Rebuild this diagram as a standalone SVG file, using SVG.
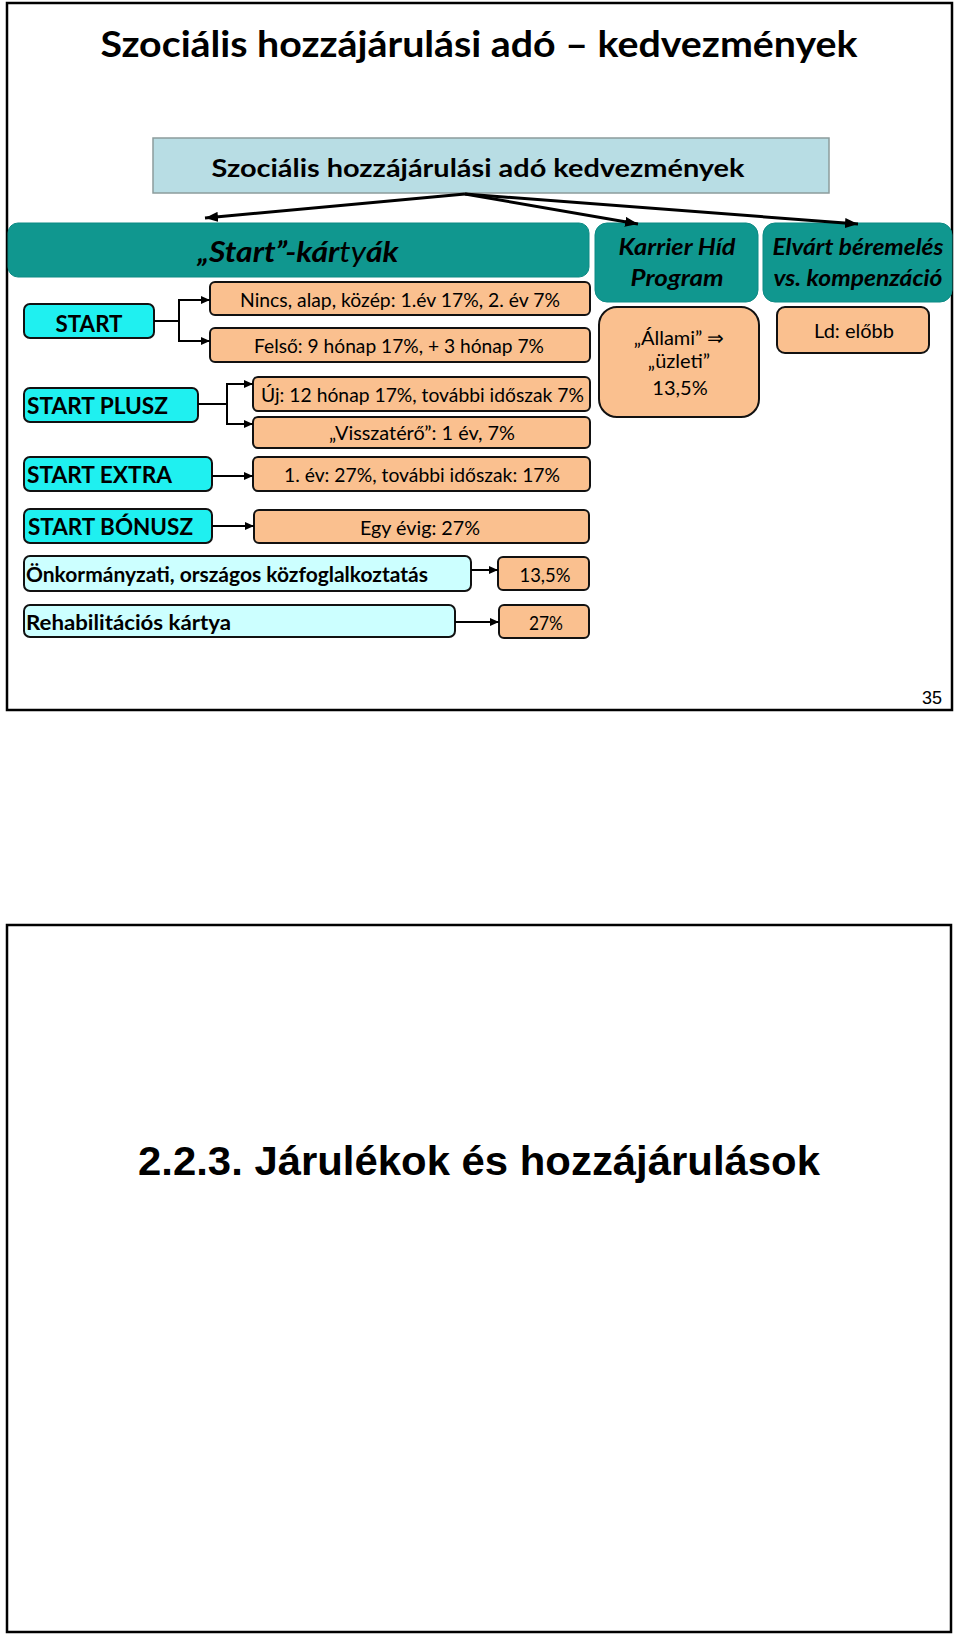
<svg xmlns="http://www.w3.org/2000/svg" width="960" height="1635" viewBox="0 0 960 1635">
<defs>
<style>
.frame{fill:#fff;stroke:#000;stroke-width:2.5}
.teal{fill:#10978f;stroke:#0d8a84;stroke-width:1}
.cyan{fill:#1ff0f0;stroke:#111;stroke-width:2}
.lcyan{fill:#ccffff;stroke:#111;stroke-width:2}
.peach{fill:#fac08f;stroke:#111;stroke-width:2}
.hdr{fill:#b8dde4;stroke:#8c9c9c;stroke-width:1.5}
.t{font-family:Lato,"Liberation Sans",sans-serif;fill:#000}
.b{font-weight:bold}
.bi{font-weight:bold;font-style:italic}
.c{text-anchor:middle}
.conn{fill:none;stroke:#000;stroke-width:2}
.big{fill:none;stroke:#000;stroke-width:3}
</style>
<marker id="ah" markerUnits="userSpaceOnUse" markerWidth="10" markerHeight="8" refX="9" refY="4" orient="auto">
<path d="M0,0 L9,4 L0,8 z" fill="#000"/>
</marker>
<marker id="ahb" markerUnits="userSpaceOnUse" markerWidth="14" markerHeight="10" refX="13" refY="5" orient="auto">
<path d="M0,0 L13,5 L0,10 z" fill="#000"/>
</marker>
</defs>
<rect width="960" height="1635" fill="#fff"/>

<!-- Slide 1 frame -->
<rect class="frame" x="7" y="3" width="945" height="707"/>
<text class="t b c" x="479" y="57" font-size="36" textLength="757" lengthAdjust="spacingAndGlyphs">Szociális hozzájárulási adó – kedvezmények</text>

<g id="header">
<rect class="hdr" x="153" y="138" width="676" height="55"/>
<text class="t b c" x="478" y="177" font-size="25" textLength="533" lengthAdjust="spacingAndGlyphs">Szociális hozzájárulási adó kedvezmények</text>
</g>

<g id="start-kartyak">
<rect class="teal" x="8" y="223" width="581" height="54" rx="10"/>
<text class="t bi c" x="298" y="262" font-size="29" textLength="201" lengthAdjust="spacingAndGlyphs">„Start”-kár<tspan font-weight="normal">ty</tspan>ák</text>
</g>

<g id="karrier">
<rect class="teal" x="595" y="223" width="163" height="79" rx="12"/>
<text class="t bi c" x="677" y="255" font-size="22" textLength="117" lengthAdjust="spacingAndGlyphs">Karrier Híd</text>
<text class="t bi c" x="677" y="286" font-size="22" textLength="93" lengthAdjust="spacingAndGlyphs">Program</text>
</g>

<g id="elvart">
<rect class="teal" x="763" y="223" width="189" height="79" rx="12"/>
<text class="t bi c" x="858" y="255" font-size="22" textLength="171" lengthAdjust="spacingAndGlyphs">Elvárt béremelés</text>
<text class="t bi c" x="858" y="286" font-size="22" textLength="169" lengthAdjust="spacingAndGlyphs">vs. kompenzáció</text>
</g>

<g id="start">
<rect class="cyan" x="24" y="304" width="130" height="34" rx="6"/>
<text class="t b c" x="89" y="332" font-size="23" textLength="67" lengthAdjust="spacingAndGlyphs">START</text>
</g>
<g id="nincs">
<rect class="peach" x="210" y="282" width="380" height="33" rx="5"/>
<text class="t c" x="400" y="307" font-size="19" textLength="320" lengthAdjust="spacingAndGlyphs">Nincs, alap, közép: 1.év 17%, 2. év 7%</text>
</g>
<g id="felso">
<rect class="peach" x="210" y="328" width="380" height="34" rx="5"/>
<text class="t c" x="399" y="353" font-size="19" textLength="290" lengthAdjust="spacingAndGlyphs">Felső: 9 hónap 17%, + 3 hónap 7%</text>
</g>

<g id="start-plusz">
<rect class="cyan" x="24" y="388" width="174" height="34" rx="6"/>
<text class="t b" x="27" y="414" font-size="23" textLength="141" lengthAdjust="spacingAndGlyphs">START PLUSZ</text>
</g>
<g id="uj">
<rect class="peach" x="253" y="377" width="337" height="34" rx="5"/>
<text class="t" x="261" y="402" font-size="20" textLength="323" lengthAdjust="spacingAndGlyphs">Új: 12 hónap 17%, további időszak 7%</text>
</g>
<g id="visszatero">
<rect class="peach" x="253" y="417" width="337" height="31" rx="5"/>
<text class="t c" x="422" y="440" font-size="20" textLength="186" lengthAdjust="spacingAndGlyphs">„Visszatérő”: 1 év, 7%</text>
</g>

<g id="start-extra">
<rect class="cyan" x="24" y="457" width="188" height="34" rx="6"/>
<text class="t b" x="27" y="483" font-size="23" textLength="145" lengthAdjust="spacingAndGlyphs">START EXTRA</text>
</g>
<g id="elso-ev">
<rect class="peach" x="253" y="457" width="337" height="34" rx="5"/>
<text class="t c" x="422" y="482" font-size="20" textLength="276" lengthAdjust="spacingAndGlyphs">1. év: 27%, további időszak: 17%</text>
</g>

<g id="start-bonusz">
<rect class="cyan" x="24" y="509" width="188" height="34" rx="6"/>
<text class="t b" x="28" y="535" font-size="23" textLength="165" lengthAdjust="spacingAndGlyphs">START BÓNUSZ</text>
</g>
<g id="egy-evig">
<rect class="peach" x="254" y="510" width="335" height="33" rx="5"/>
<text class="t c" x="420" y="535" font-size="20" textLength="120" lengthAdjust="spacingAndGlyphs">Egy évig: 27%</text>
</g>

<g id="onkormanyzati">
<rect class="lcyan" x="24" y="556" width="447" height="35" rx="6"/>
<text class="t b" x="26" y="582" font-size="21" textLength="402" lengthAdjust="spacingAndGlyphs">Önkormányzati, országos közfoglalkoztatás</text>
</g>
<g id="p135">
<rect class="peach" x="498" y="557" width="91" height="33" rx="5"/>
<text class="t c" x="545" y="582" font-size="20" textLength="51" lengthAdjust="spacingAndGlyphs">13,5%</text>
</g>

<g id="rehab">
<rect class="lcyan" x="24" y="605" width="431" height="32" rx="6"/>
<text class="t b" x="26" y="630" font-size="21" textLength="205" lengthAdjust="spacingAndGlyphs">Rehabilitációs kártya</text>
</g>
<g id="p27">
<rect class="peach" x="499" y="605" width="90" height="33" rx="5"/>
<text class="t c" x="546" y="630" font-size="20" textLength="34" lengthAdjust="spacingAndGlyphs">27%</text>
</g>

<g id="allami">
<rect class="peach" x="599" y="307" width="160" height="110" rx="18"/>
<text class="t c" x="679" y="345" font-size="20">„Állami” ⇒</text>
<text class="t c" x="679" y="368" font-size="20">„üzleti”</text>
<text class="t c" x="680" y="395" font-size="20">13,5%</text>
</g>

<g id="ld">
<rect class="peach" x="777" y="307" width="152" height="46" rx="8"/>
<text class="t c" x="854" y="338" font-size="20">Ld: előbb</text>
</g>

<g id="connectors">
<line class="big" x1="465" y1="194" x2="205" y2="218" marker-end="url(#ahb)"/>
<line class="big" x1="465" y1="194" x2="638" y2="224" marker-end="url(#ahb)"/>
<line class="big" x1="465" y1="194" x2="858" y2="224" marker-end="url(#ahb)"/>
<polyline class="conn" points="154,321 179,321"/>
<polyline class="conn" points="208,300 179,300 179,341 208,341"/>
<line class="conn" x1="200" y1="300" x2="210" y2="300" marker-end="url(#ah)"/>
<line class="conn" x1="200" y1="341" x2="210" y2="341" marker-end="url(#ah)"/>
<polyline class="conn" points="198,404 227,404"/>
<polyline class="conn" points="251,384 227,384 227,424 251,424"/>
<line class="conn" x1="243" y1="384" x2="253" y2="384" marker-end="url(#ah)"/>
<line class="conn" x1="243" y1="424" x2="253" y2="424" marker-end="url(#ah)"/>
<line class="conn" x1="212" y1="476" x2="253" y2="476" marker-end="url(#ah)"/>
<line class="conn" x1="212" y1="526" x2="254" y2="526" marker-end="url(#ah)"/>
<line class="conn" x1="471" y1="570" x2="498" y2="570" marker-end="url(#ah)"/>
<line class="conn" x1="455" y1="622" x2="499" y2="622" marker-end="url(#ah)"/>
</g>

<text x="942" y="704" font-family="'Liberation Sans',Arial,sans-serif" font-size="18" text-anchor="end">35</text>

<!-- Slide 2 -->
<rect class="frame" x="7" y="925" width="944" height="707" stroke-width="3"/>
<text x="138" y="1175" font-family="'Liberation Sans',Arial,sans-serif" font-weight="bold" font-size="40" textLength="682" lengthAdjust="spacingAndGlyphs">2.2.3. Járulékok és hozzájárulások</text>
</svg>
